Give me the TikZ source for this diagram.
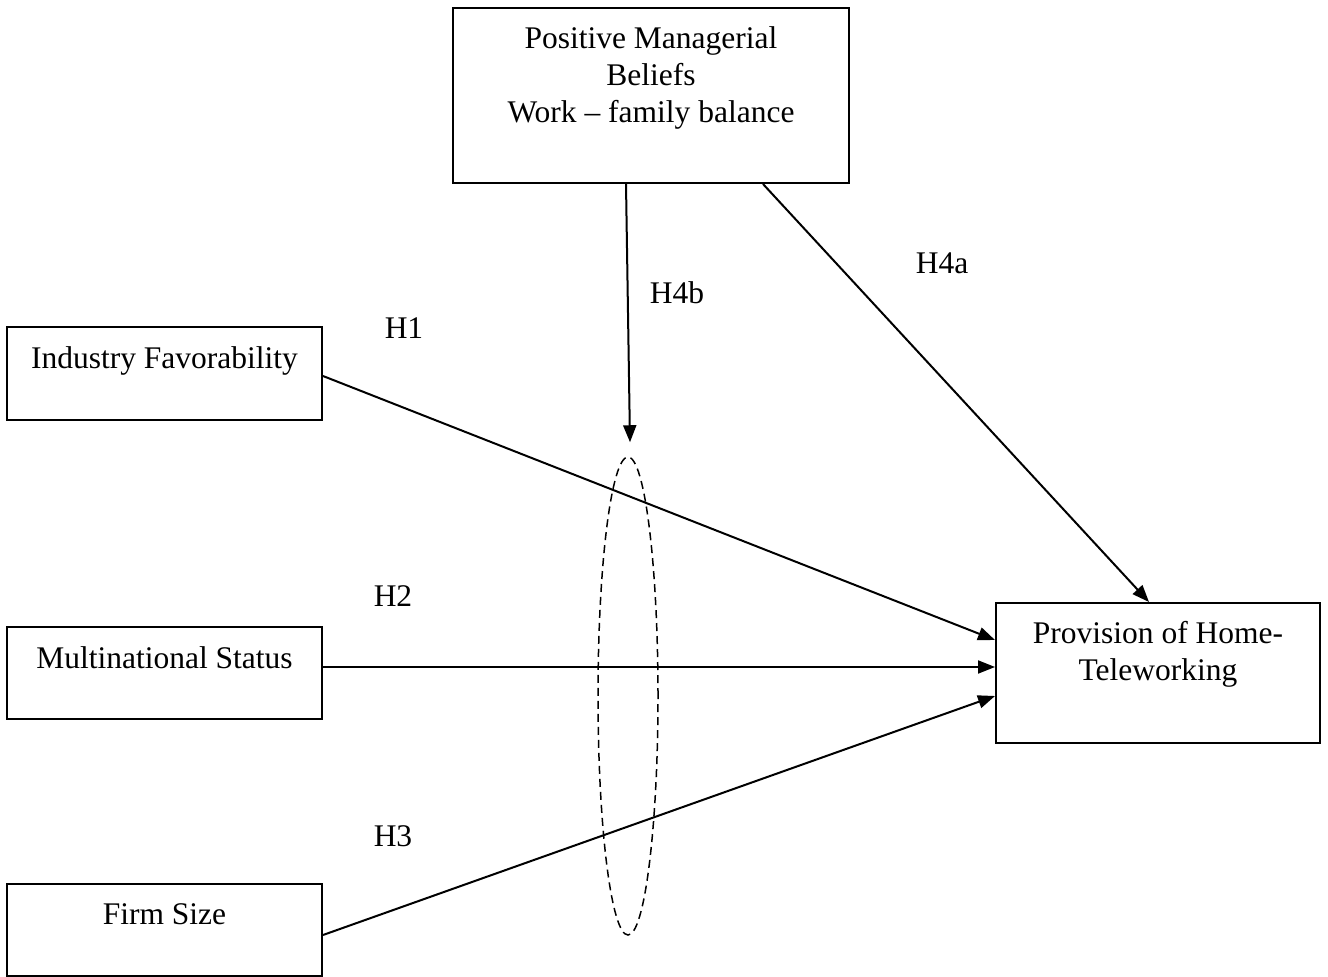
\documentclass[tikz,border=0pt]{standalone}
\usepackage{fontspec}
\setmainfont{Liberation Serif}
\usetikzlibrary{positioning,shapes.geometric,arrows.meta}
\tikzset{every picture/.style={line width=2pt}}

\begin{document}
\begin{tikzpicture}[x=1pt, y=-1pt,
    box/.style={draw, rectangle, inner sep=0pt, align=center, text height=22pt, font=\fontsize{31.5}{37}\selectfont},
    hlabel/.style={anchor=base, inner sep=0pt, font=\fontsize{31.5}{37}\selectfont},
    link/.style={-{Triangle[length=17pt,width=13pt]}}]
    \useasboundingbox (0,0) rectangle (1328,977);

    % Positive Managerial Beliefs
    \node[box, minimum width=396pt, minimum height=175pt, text height=96pt, text depth=43pt] (beliefs) at (651,95.5) {Positive Managerial\\Beliefs\\Work – family balance};

    % Antecedents
    \node[box, minimum width=315pt, minimum height=93pt, text depth=33pt] (industry) at (164.5,373.5) {Industry Favorability};
    \node[box, minimum width=315pt, minimum height=92pt, text depth=32pt] (multinational) at (164.5,673) {Multinational Status};
    \node[box, minimum width=315pt, minimum height=92pt, text depth=33pt] (firmsize) at (164.5,930) {Firm Size};

    % Provision of Home-Teleworking
    \node[box, minimum width=324pt, minimum height=140pt, text height=59pt, text depth=45pt] (provision) at (1158,673) {Provision of Home-\\Teleworking};

    % Moderation ellipse
    \node[draw, ellipse, inner sep=0pt, minimum width=60pt, minimum height=478pt, line width=1.5pt, dash pattern=on 8pt off 5pt] (moderation) at (628,696) {};

    % Connections
    \draw[link] ([yshift=-2.5pt]industry.east) -- ([yshift=33pt]provision.west);
    \draw[link] ([yshift=6pt]multinational.east) -- ([yshift=6pt]provision.west);
    \draw[link] ([yshift=-5pt]firmsize.east) -- ([yshift=-23pt]provision.west);
    \draw[link] ([xshift=-25pt]beliefs.south) -- ([xshift=2pt,yshift=14pt]moderation.north);
    \draw[link] ([xshift=112pt]beliefs.south) -- ([xshift=-9pt]provision.north);

    % Hypotheses
    \node[hlabel] (h1) at (404,338) {H1};
    \node[hlabel] (h2) at (393,606) {H2};
    \node[hlabel] (h3) at (393,846) {H3};
    \node[hlabel] (h4b) at (677,303) {H4b};
    \node[hlabel] (h4a) at (942,273) {H4a};
\end{tikzpicture}
\end{document}
